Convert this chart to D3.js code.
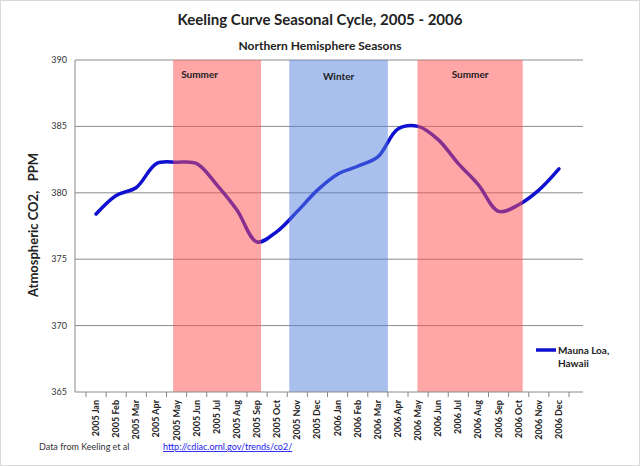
<!DOCTYPE html>
<html><head><meta charset="utf-8">
<script src="https://cdn.jsdelivr.net/npm/d3@7"></script>
<style>body{margin:0;background:#fff}svg{display:block}text{font-family:Lato,"Open Sans",sans-serif}</style>
</head><body><svg id="c" width="640" height="466"></svg>
<script>
const months = ["2005 Jan","2005 Feb","2005 Mar","2005 Apr","2005 May","2005 Jun","2005 Jul","2005 Aug","2005 Sep","2005 Oct","2005 Nov","2005 Dec","2006 Jan","2006 Feb","2006 Mar","2006 Apr","2006 May","2006 Jun","2006 Jul","2006 Aug","2006 Sep","2006 Oct","2006 Nov","2006 Dec"];
const co2 = [378.4,379.8,380.4,382.2,382.3,382.2,380.6,378.7,376.3,377.1,378.6,380.2,381.4,382.0,382.7,384.8,385.0,384.0,382.2,380.6,378.6,379.1,380.2,381.8];
const yTicks = [365,370,375,380,385,390];
const seasonNames = ["Summer","Winter","Summer"];
const seasonStart = ["2005 May","2005 Nov","2006 May"];
const seasonEnd = ["2005 Sep","2006 Mar","2006 Oct"];
const seasonKind = ["summer","winter","summer"];

const svg = d3.select("#c");
svg.append("rect").attr("x",0.5).attr("y",0.5).attr("width",639).attr("height",465).attr("fill","#fff").attr("stroke","#d9d9d9");
const x = d3.scaleBand().domain(months).range([86,569]);
const y = d3.scaleLinear().domain([365,390]).range([392,60]);
const bw = x.bandwidth();
const L=75, R=583;

svg.append("g").selectAll("line").data(yTicks.filter(t=>t>365)).join("line")
 .attr("x1",L).attr("x2",R).attr("y1",d=>y(d)).attr("y2",d=>y(d)).attr("stroke","#8c8c8c").attr("stroke-width",1);

const line = d3.line().x((d,i)=>x(months[i])+bw/2).y(d=>y(d)).curve(d3.curveCatmullRom.alpha(0.5));
svg.append("path").attr("d",line(co2)).attr("fill","none").attr("stroke","#1010d0").attr("stroke-width",3.5).attr("stroke-linecap","round");

const startOff = {summer:0.33, winter:0.1};
seasonNames.forEach((n,i)=>{
  const k=seasonKind[i];
  const x0 = x(seasonStart[i]) + (i==2?0.47:startOff[k])*bw;
  const x1 = x(seasonEnd[i]) + (k=="winter"?1.0:0.7)*bw;
  svg.append("rect").attr("x",x0).attr("y",y(390)).attr("width",x1-x0).attr("height",y(365)-y(390))
   .attr("fill",k=="summer"?"#ff4d4d":"#5380dd").attr("opacity",0.5);
  const centered = i>0;
  svg.append("text").attr("x",centered?(x0+x1)/2:x0+8).attr("y",k=="winter"?80:78)
   .attr("text-anchor",centered?"middle":"start").attr("font-size",10).attr("font-weight","bold").attr("fill","#222").text(n);
});

svg.append("line").attr("x1",L).attr("x2",L).attr("y1",60).attr("y2",392).attr("stroke","#888");
svg.append("line").attr("x1",L).attr("x2",R).attr("y1",392).attr("y2",392).attr("stroke","#888");
const ticksX = months.map(m=>x(m)).concat([x(months[23])+bw]);
svg.append("g").selectAll("line").data(ticksX).join("line").attr("x1",d=>d).attr("x2",d=>d).attr("y1",392).attr("y2",397).attr("stroke","#888");
svg.append("g").selectAll("text").data(yTicks).join("text").attr("x",L-8).attr("y",d=>y(d)+3).attr("text-anchor","end").attr("font-size",9).attr("fill","#333").text(d=>d);
svg.append("g").selectAll("text").data(months).join("text")
 .attr("transform",d=>`translate(${x(d)+bw/2+3},400) rotate(-90)`).attr("text-anchor","end")
 .attr("font-size",9).attr("font-weight","bold").attr("fill","#222").text(d=>d);

svg.append("text").attr("x",320).attr("y",25).attr("text-anchor","middle").attr("font-size",15).attr("font-weight","bold").attr("fill","#222").text("Keeling Curve Seasonal Cycle, 2005 - 2006");
svg.append("text").attr("x",320).attr("y",50).attr("text-anchor","middle").attr("font-size",12).attr("font-weight","bold").attr("fill","#222").text("Northern Hemisphere Seasons");
svg.append("text").attr("transform","translate(38,225) rotate(-90)").attr("text-anchor","middle").attr("font-size",13).attr("font-weight","bold").attr("fill","#222").attr("xml:space","preserve").text("Atmospheric CO2,   PPM");

svg.append("line").attr("x1",536).attr("x2",556).attr("y1",350).attr("y2",350).attr("stroke","#1010d0").attr("stroke-width",3.5);
svg.append("text").attr("x",558).attr("y",354).attr("font-size",10).attr("font-weight","bold").attr("fill","#222").text("Mauna Loa,");
svg.append("text").attr("x",558).attr("y",367).attr("font-size",10).attr("font-weight","bold").attr("fill","#222").text("Hawaii");

svg.append("text").attr("x",39).attr("y",450).attr("font-size",9).attr("fill","#333").text("Data from Keeling et al");
svg.append("text").attr("x",163).attr("y",450).attr("font-size",9).attr("fill","#1a1aee").attr("text-decoration","underline").text("http://cdiac.ornl.gov/trends/co2/");
</script></body></html>
